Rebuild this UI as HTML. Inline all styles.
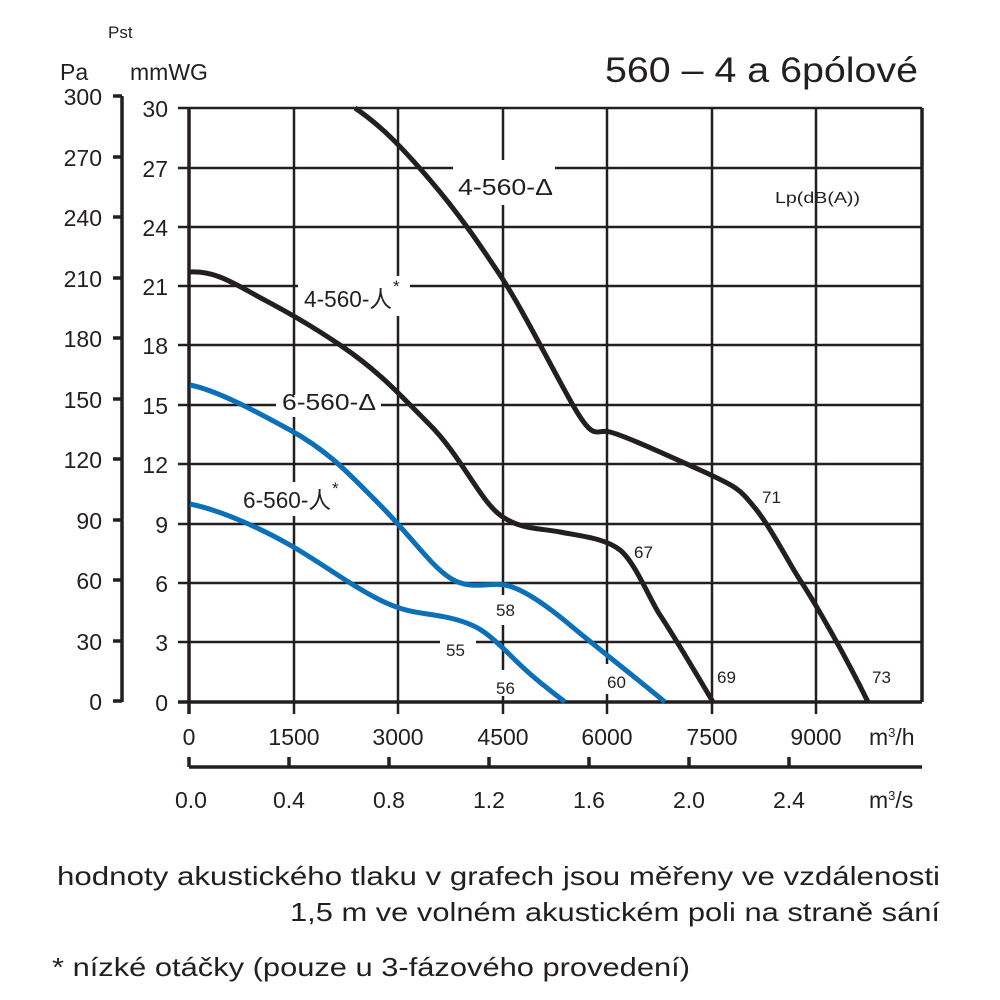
<!DOCTYPE html>
<html><head><meta charset="utf-8"><style>
body{margin:0;background:#fff}
svg{display:block}
text{font-family:"Liberation Sans",sans-serif;fill:#231f20}
</style></head><body>
<svg width="1000" height="1000" viewBox="0 0 1000 1000">
<g stroke="#231f20" stroke-width="2.5" fill="none">
<path d="M178 108H922M178 168H922M178 227H922M178 286H922M178 345H922M178 405H922M178 464H922M178 524H922M178 583H922M178 642H922"/>
<path d="M294 108V714M398 108V714M503 108V714M607 108V714M712 108V714M816 108V714"/>
<path d="M189 108V714" stroke-width="3.5"/>
<path d="M922 108V702" stroke-width="3.5"/>
<path d="M178 702H922" stroke-width="3.5"/>
<path d="M122 96V702" stroke-width="3.5"/>
<path d="M113 96H122M113 157H122M113 217H122M113 278H122M113 338H122M113 399H122M113 459H122M113 520H122M113 580H122M113 641H122M113 701H122" stroke-width="3.5"/>
<path d="M189 767H922" stroke-width="3.5"/>
<path d="M189 757V767M289 757V767M389 757V767M489 757V767M589 757V767M689 757V767M789 757V767" stroke-width="3.5"/>
</g>
<g fill="#fff">
<rect x="453" y="160" width="102" height="45"/>
<rect x="298" y="276" width="112" height="40"/>
<rect x="276" y="395" width="105" height="22"/>
<rect x="237" y="482" width="108" height="34"/>
<rect x="484" y="595" width="36" height="30"/>
<rect x="440" y="636" width="36" height="24"/>
<rect x="486" y="670" width="36" height="26"/>
<rect x="604" y="664" width="30" height="30"/>
</g>
<g fill="none" stroke-width="5" stroke-linejoin="round" stroke-linecap="butt">
<path stroke="#231f20" d="M355 108 C380 125,400 145,430 180 S480 245,500 275 S545 355,570 400 S595 428,610 432 S660 452,700 470 S740 490,755 508 S790 565,800 580 S840 645,868 702"/>
<path stroke="#231f20" d="M190 272 C210 271,225 278,250 292 S300 318,340 345 S400 395,430 425 S480 500,500 515 S540 528,560 532 S605 538,620 550 S650 600,660 615 S700 680,713 702"/>
<path stroke="#0b70b8" d="M190 385 C215 390,250 408,290 430 S350 475,380 505 S430 565,450 578 S490 582,505 585 S540 600,570 625 S620 665,665 702"/>
<path stroke="#0b70b8" d="M190 504 C220 510,260 528,290 545 S350 585,380 600 S425 612,450 618 S485 630,510 655 S550 690,565 702"/>
</g>
<g font-size="23">
<text x="458" y="195" textLength="95" lengthAdjust="spacingAndGlyphs">4-560-Δ</text>
<text x="304" y="307" textLength="88" lengthAdjust="spacingAndGlyphs">4-560-人</text><text x="393" y="292" font-size="17">*</text>
<text x="282" y="410" textLength="94" lengthAdjust="spacingAndGlyphs">6-560-Δ</text>
<text x="243" y="508" textLength="88" lengthAdjust="spacingAndGlyphs">6-560-人</text><text x="332" y="494" font-size="17">*</text>
</g>
<g font-size="17">
<text x="775" y="203" font-size="16" textLength="85" lengthAdjust="spacingAndGlyphs">Lp(dB(A))</text>
<text x="496" y="616">58</text>
<text x="446" y="656">55</text>
<text x="496" y="694">56</text>
<text x="607" y="688">60</text>
<text x="634" y="558">67</text>
<text x="717" y="683">69</text>
<text x="762" y="503">71</text>
<text x="872" y="683">73</text>
</g>
<g font-size="23" text-anchor="end">
<text x="102" y="105">300</text><text x="102" y="166">270</text><text x="102" y="226">240</text>
<text x="102" y="287">210</text><text x="102" y="347">180</text><text x="102" y="408">150</text>
<text x="102" y="468">120</text><text x="102" y="529">90</text><text x="102" y="589">60</text>
<text x="102" y="650">30</text><text x="102" y="710">0</text>
<text x="168" y="117">30</text><text x="168" y="177">27</text><text x="168" y="236">24</text>
<text x="168" y="295">21</text><text x="168" y="354">18</text><text x="168" y="414">15</text>
<text x="168" y="473">12</text><text x="168" y="533">9</text><text x="168" y="592">6</text>
<text x="168" y="651">3</text><text x="168" y="711">0</text>
</g>
<g font-size="23" text-anchor="middle">
<text x="189" y="745">0</text><text x="294" y="745">1500</text><text x="398" y="745">3000</text>
<text x="503" y="745">4500</text><text x="607" y="745">6000</text><text x="712" y="745">7500</text>
<text x="816" y="745">9000</text>
<text x="191" y="808">0.0</text><text x="289" y="808">0.4</text><text x="389" y="808">0.8</text>
<text x="489" y="808">1.2</text><text x="589" y="808">1.6</text><text x="689" y="808">2.0</text>
<text x="789" y="808">2.4</text>
</g>
<text x="869" y="745" font-size="23">m<tspan font-size="13" dy="-8">3</tspan><tspan dy="8">/h</tspan></text>
<text x="869" y="808" font-size="23">m<tspan font-size="13" dy="-8">3</tspan><tspan dy="8">/s</tspan></text>
<text x="60" y="80" font-size="23">Pa</text>
<text x="108" y="38" font-size="17">Pst</text>
<text x="130" y="80" font-size="23">mmWG</text>
<text x="605" y="82" font-size="35" textLength="313" lengthAdjust="spacingAndGlyphs">560 – 4 a 6pólové</text>
<text x="57" y="885" font-size="26" textLength="883" lengthAdjust="spacingAndGlyphs">hodnoty akustického tlaku v grafech jsou měřeny ve vzdálenosti</text>
<text x="290" y="921" font-size="26" textLength="650" lengthAdjust="spacingAndGlyphs">1,5 m ve volném akustickém poli na straně sání</text>
<text x="52" y="976" font-size="26" textLength="638" lengthAdjust="spacingAndGlyphs">* nízké otáčky (pouze u 3-fázového provedení)</text>
</svg>
</body></html>
